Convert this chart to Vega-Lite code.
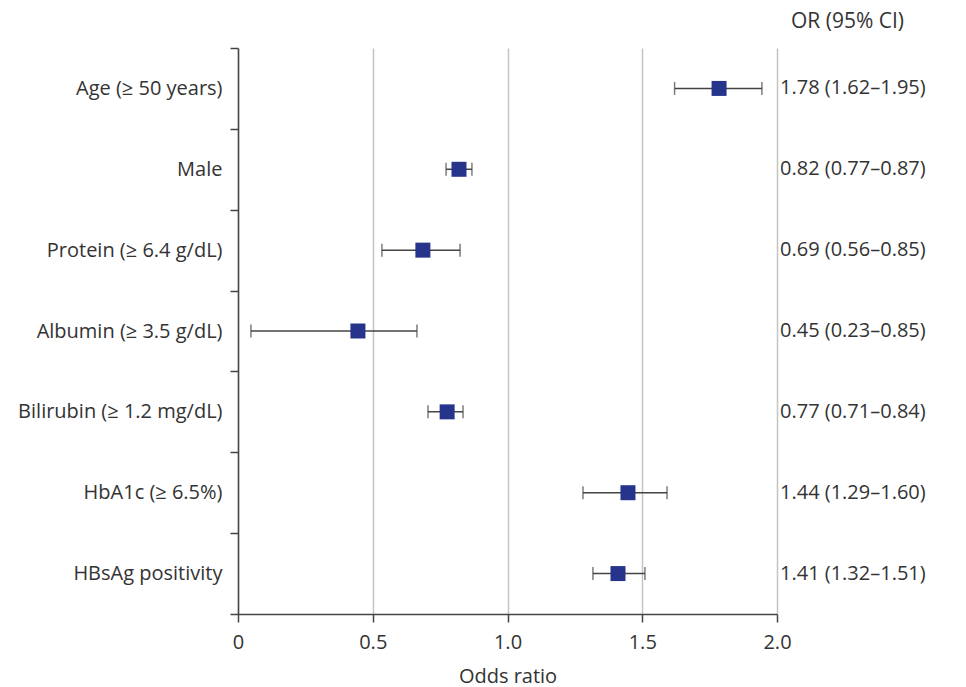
{
  "$schema": "https://vega.github.io/schema/vega-lite/v6.json",
  "autosize": "none",
  "padding": {"left": 238, "top": 48, "right": 189, "bottom": 73},
  "width": 539,
  "height": 566,
  "background": "white",
  "config": {
    "view": {"stroke": null},
    "font": "Open Sans",
    "axis": {"labelFont": "Open Sans", "titleFont": "Open Sans", "labelColor": "#333333", "titleColor": "#333333"}
  },
  "title": {"text": "OR (95% CI)", "anchor": "start", "frame": "group", "dx": 553, "offset": 6, "fontSize": 21, "fontWeight": "normal", "color": "#333333", "font": "Open Sans"},
  "data": {
    "values": [
      {"label": "Age (≥ 50 years)", "or": 1.785, "lo": 1.62, "hi": 1.944, "txt": "1.78 (1.62–1.95)"},
      {"label": "Male", "or": 0.82, "lo": 0.772, "hi": 0.868, "txt": "0.82 (0.77–0.87)"},
      {"label": "Protein (≥ 6.4 g/dL)", "or": 0.686, "lo": 0.534, "hi": 0.824, "txt": "0.69 (0.56–0.85)"},
      {"label": "Albumin (≥ 3.5 g/dL)", "or": 0.445, "lo": 0.048, "hi": 0.664, "txt": "0.45 (0.23–0.85)"},
      {"label": "Bilirubin (≥ 1.2 mg/dL)", "or": 0.776, "lo": 0.705, "hi": 0.835, "txt": "0.77 (0.71–0.84)"},
      {"label": "HbA1c (≥ 6.5%)", "or": 1.447, "lo": 1.28, "hi": 1.592, "txt": "1.44 (1.29–1.60)"},
      {"label": "HBsAg positivity", "or": 1.41, "lo": 1.317, "hi": 1.51, "txt": "1.41 (1.32–1.51)"}
    ]
  },
  "encoding": {
    "y": {
      "field": "label", "type": "nominal", "sort": null,
      "scale": {"paddingInner": 0, "paddingOuter": 0},
      "axis": {
        "title": null, "tickBand": "extent", "labelFontSize": 20, "labelPadding": 8, "labelLimit": 400,
        "tickSize": 8, "tickColor": "#444444", "tickWidth": 1.5,
        "domainColor": "#444444", "domainWidth": 1.5, "grid": false
      }
    }
  },
  "layer": [
    {
      "mark": {"type": "rule", "color": "#444444", "strokeWidth": 1.5},
      "encoding": {
        "x": {
          "field": "lo", "type": "quantitative",
          "scale": {"domain": [0, 2], "nice": false, "zero": false},
          "axis": {
            "title": "Odds ratio", "values": [0, 0.5, 1, 1.5, 2],
            "labelExpr": "datum.value == 0 ? '0' : format(datum.value, '.1f')",
            "labelFlush": false,
            "labelFontSize": 20, "titleFontSize": 20, "titleFontWeight": "normal",
            "labelPadding": 10, "titlePadding": 14, "tickSize": 8,
            "tickColor": "#444444", "tickWidth": 1.5,
            "domainColor": "#444444", "domainWidth": 1.5,
            "grid": true, "gridColor": "#c4c4c4", "gridWidth": 1.5
          }
        },
        "x2": {"field": "hi"}
      }
    },
    {
      "mark": {"type": "tick", "color": "#444444", "thickness": 1.5, "size": 13, "orient": "vertical"},
      "encoding": {"x": {"field": "lo", "type": "quantitative"}}
    },
    {
      "mark": {"type": "tick", "color": "#444444", "thickness": 1.5, "size": 13, "orient": "vertical"},
      "encoding": {"x": {"field": "hi", "type": "quantitative"}}
    },
    {
      "mark": {"type": "point", "shape": "square", "filled": true, "size": 225, "color": "#27348b", "opacity": 1},
      "encoding": {"x": {"field": "or", "type": "quantitative"}}
    },
    {
      "mark": {"type": "text", "align": "left", "baseline": "middle", "fontSize": 20, "color": "#333333", "dx": 3, "font": "Open Sans"},
      "encoding": {
        "x": {"datum": 2, "type": "quantitative"},
        "text": {"field": "txt"}
      }
    }
  ]
}
